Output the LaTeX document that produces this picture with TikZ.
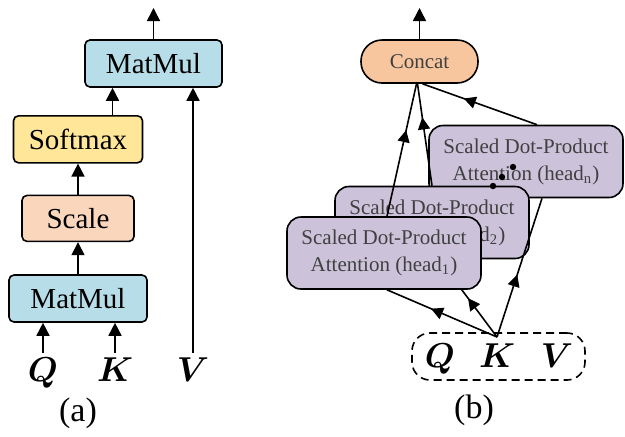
\documentclass[tikz,border=0pt]{standalone}
\usepackage{amsmath,amssymb}
\usepackage{fontspec}
\setmainfont{Liberation Serif}
\usepackage{xcolor}
\usepackage{tikz}
\usetikzlibrary{arrows.meta,positioning,calc,decorations.markings}
\definecolor{mulblue}{RGB}{183,221,232}
\definecolor{softyellow}{RGB}{255,230,153}
\definecolor{scalepeach}{RGB}{250,214,188}
\definecolor{catorange}{RGB}{248,198,158}
\definecolor{headlilac}{RGB}{204,194,218}
\definecolor{txtgray}{RGB}{64,64,64}
\pgfdeclarelayer{front}
\pgfsetlayers{main,front}
\tikzset{
  box/.style={draw, line width=0.8pt, rounded corners=2.5pt, align=center, inner sep=0pt, minimum height=23.5pt, font=\fontsize{14.5}{16}\selectfont},
  mul/.style={box, fill=mulblue, minimum width=69pt},
  head/.style={draw, line width=0.8pt, rounded corners=7pt, fill=headlilac, minimum width=97pt, minimum height=36pt, align=center, inner sep=0pt, text=txtgray, font=\fontsize{10.5}{13.5}\selectfont},
  arr/.style={-{Triangle[length=6.5pt,width=6.5pt]}, line width=0.8pt},
  midarr/.style={line width=0.8pt, postaction={decorate}, decoration={markings, mark=at position #1 with {\arrow{Triangle[length=6pt,width=6pt]}}}},
  vec/.style={font=\fontsize{16}{18}\selectfont, inner sep=2pt, anchor=base},
  sublabel/.style={font=\fontsize{17}{19}\selectfont}}

\begin{document}
\begin{tikzpicture}[x=0.5pt, y=-0.5pt]
  \useasboundingbox (0,0) rectangle (625,436);

  % (a) scaled dot-product attention
  \node[mul] (mm1) at (78,298.5) {MatMul};
  \node[box, fill=scalepeach, minimum width=56pt, minimum height=23pt, above=16pt of mm1] (sc) {Scale};
  \node[box, fill=softyellow, minimum width=64.5pt, above=15.5pt of sc] (sm) {Softmax};
  \node[mul, minimum width=68.5pt] (mm2) at (153.5,63.5) {MatMul};
  \coordinate (outa) at (153.5,8);
  \node[vec] (qa) at (43,381) {$\boldsymbol{Q}$};
  \node[vec] (ka) at (115,381) {$\boldsymbol{K}$};
  \node[vec] (va) at (193,381) {$\boldsymbol{V}$};
  \node[sublabel] (capa) at (78,413) {(a)};

  \draw[arr] (qa.north) -- (qa.north |- mm1.south);
  \draw[arr] (ka.north) -- (ka.north |- mm1.south);
  \draw[arr] (mm1) -- (sc);
  \draw[arr] (sc) -- (sm);
  \draw[arr] ([xshift=17.25pt]sm.north) -- ([xshift=17.25pt]sm.north |- mm2.south);
  \draw[arr] (va.north) -- (va.north |- mm2.south);
  \draw[arr] (mm2.north) -- (outa);

  % (b) multi-head attention
  \node[draw, line width=0.8pt, rounded corners=10.5pt, fill=catorange, minimum width=58.5pt, minimum height=21.5pt, inner sep=0pt, text=txtgray, font=\fontsize{10.5}{12}\selectfont] (cc) at (419.5,61.5) {Concat};
  \coordinate (outb) at (419.5,8);
  \draw[arr] (cc.north) -- (outb);

  \node[head] (hn) at (526,161.5) {Scaled Dot-Product\\Attention (head\textsubscript{n})};
  \node[head] (h2) at (432,222.5) {Scaled Dot-Product\\Attention (head\textsubscript{2})};
  \begin{pgfonlayer}{front}
    \node[head] (h1) at (384,253) {Scaled Dot-Product\\Attention (head\textsubscript{1})};
  \end{pgfonlayer}

  \node[draw, dashed, dash pattern=on 4pt off 2.5pt, line width=0.8pt, rounded corners=9pt, minimum width=86.5pt, minimum height=23.5pt] (qkv) at (498.5,356.5) {};
  \node[vec] (qb) at (440,367) {$\boldsymbol{Q}$};
  \node[vec] (kb) at (497,367) {$\boldsymbol{K}$};
  \node[vec] (vb) at (557,367) {$\boldsymbol{V}$};
  \node[sublabel] (capb) at (474,410) {(b)};
  \coordinate (kin) at (497,337);

  % inputs fan out to the heads
  \draw[midarr=0.6] (kin) -- ([xshift=1.5pt]h1.south);
  \draw[midarr=0.5] (kin) -- ([xshift=3.5pt]h2.south);
  \draw[midarr=0.45] (kin) -- ([xshift=8pt]hn.south);
  % heads into concat
  \draw[midarr=0.65] ([xshift=1.5pt]h1.north) -- ([xshift=-1.5pt]cc.south);
  \draw[midarr=0.67] (h2.north) -- ([xshift=-1pt]cc.south);
  \draw[midarr=0.64] ([xshift=5.5pt]hn.north) -- ([xshift=1.5pt]cc.south);

  % dots between the heads
  \foreach \px/\py in {513/167, 502/177, 493/186}
    \fill (\px,\py) circle (1.6pt);
\end{tikzpicture}
\end{document}
